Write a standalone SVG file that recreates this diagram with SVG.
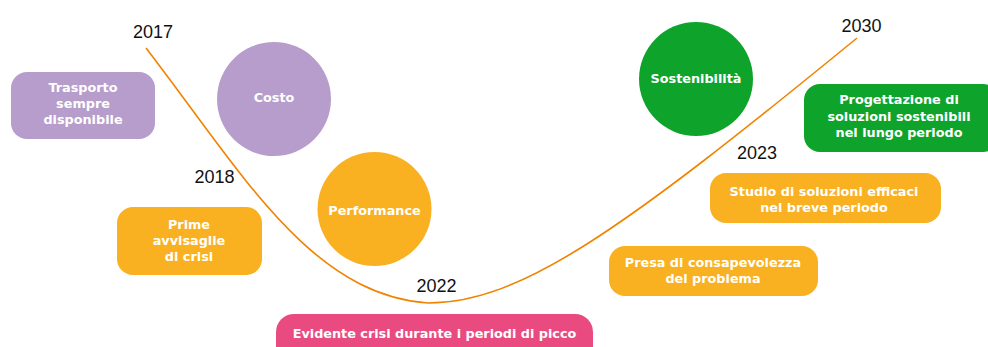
<svg xmlns="http://www.w3.org/2000/svg" width="988" height="347" viewBox="0 0 988 347">
<style>
.lbl{font-family:"DejaVu Sans","Liberation Sans",sans-serif;font-weight:bold;font-size:12.8px;fill:#ffffff;text-anchor:middle}
.yr{font-family:"Liberation Sans",Arial,sans-serif;font-size:18px;fill:#111111;text-anchor:middle}
.purple{fill:#b69dcb}
.orange{fill:#f9b122}
.green{fill:#0ea42b}
.pink{fill:#e94b80}
.curve{fill:none;stroke:#f08300;stroke-width:1.6}
</style>
<rect width="988" height="347" fill="#ffffff"/>
<g id="connectors">
<path class="curve" d="M146,48 C240,170 310,295 428,303 C520,303 620,232 857,38"/>
</g>
<g id="years">
<text class="yr" x="153" y="38">2017</text>
<text class="yr" x="214.5" y="183">2018</text>
<text class="yr" x="436.5" y="292">2022</text>
<text class="yr" x="757" y="159">2023</text>
<text class="yr" x="861.5" y="32">2030</text>
</g>
<g id="trasporto">
<rect class="purple" x="11" y="72" width="144" height="67" rx="16"/>
<text class="lbl" x="83" y="92">Trasporto</text>
<text class="lbl" x="83" y="108">sempre</text>
<text class="lbl" x="83" y="123.5">disponibile</text>
</g>
<g id="costo">
<circle class="purple" cx="274" cy="99" r="57"/>
<text class="lbl" x="274" y="102">Costo</text>
</g>
<g id="prime">
<rect class="orange" x="117" y="207" width="145" height="68" rx="16"/>
<text class="lbl" x="189" y="229">Prime</text>
<text class="lbl" x="189" y="244.5">avvisaglie</text>
<text class="lbl" x="189" y="261">di crisi</text>
</g>
<g id="performance">
<circle class="orange" cx="374.5" cy="209" r="57"/>
<text class="lbl" x="374.5" y="215">Performance</text>
</g>
<g id="evidente">
<rect class="pink" x="276" y="314" width="317" height="52" rx="18"/>
<text class="lbl" x="434.5" y="338">Evidente crisi durante i periodi di picco</text>
</g>
<g id="sostenibilita">
<circle class="green" cx="696" cy="79" r="57"/>
<text class="lbl" x="696" y="83">Sostenibilità</text>
</g>
<g id="progettazione">
<rect class="green" x="804" y="84" width="195" height="68" rx="16"/>
<text class="lbl" x="899" y="104">Progettazione di</text>
<text class="lbl" x="899" y="120.5">soluzioni sostenibili</text>
<text class="lbl" x="899" y="137">nel lungo periodo</text>
</g>
<g id="studio">
<rect class="orange" x="710" y="173" width="231" height="50" rx="16"/>
<text class="lbl" x="824" y="196">Studio di soluzioni efficaci</text>
<text class="lbl" x="824" y="212">nel breve periodo</text>
</g>
<g id="presa">
<rect class="orange" x="609" y="246" width="209" height="50" rx="16"/>
<text class="lbl" x="713" y="267">Presa di consapevolezza</text>
<text class="lbl" x="713" y="283">del problema</text>
</g>
</svg>
